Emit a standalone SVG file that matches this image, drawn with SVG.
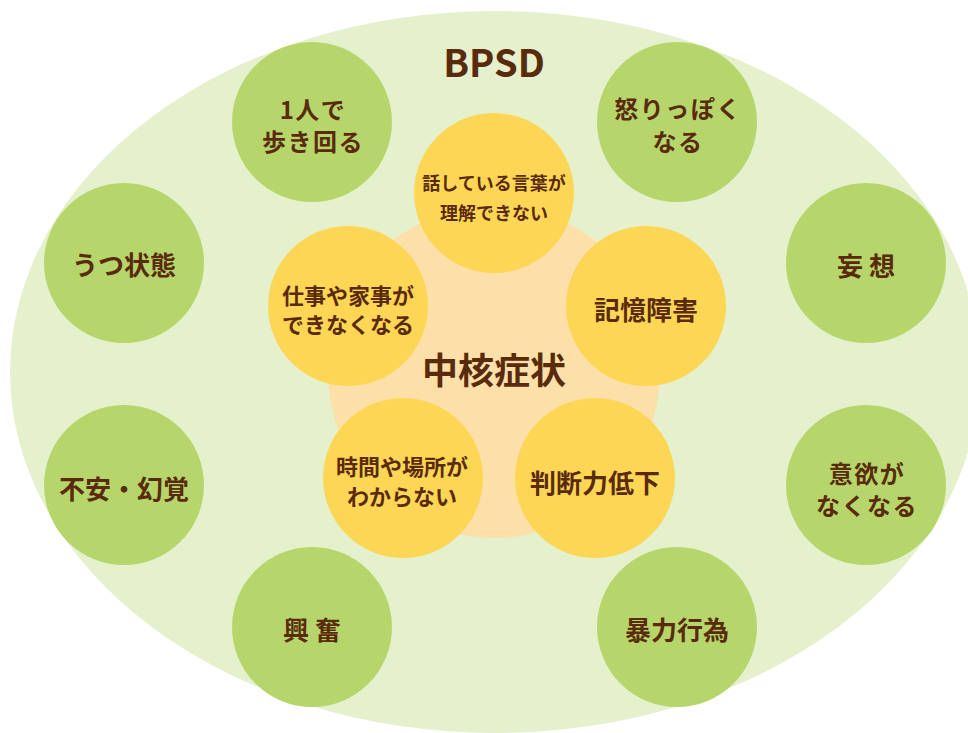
<svg xmlns="http://www.w3.org/2000/svg" width="968" height="733" viewBox="0 0 968 733">
<style>
  .bg { fill: #e5f0cd; }
  .core { fill: #fde0a9; }
  .g { fill: #b6d66b; }
  .y { fill: #fed656; }
  text { font-family: "Noto Sans CJK JP", "Noto Sans", sans-serif; font-weight: 700; fill: #5a2b0b; text-anchor: middle; }
  .t26 { font-size: 26px; }
  .t24 { font-size: 24px; letter-spacing: 1.5px; }
  .t22 { font-size: 22px; }
  .t18 { font-size: 18px; }
</style>
<rect x="0" y="0" width="968" height="733" fill="#ffffff"/>
<g id="bpsd">
  <ellipse class="bg" cx="495" cy="372" rx="485" ry="361"/>
  <text x="494" y="77" style="font-size:38px">BPSD</text>
</g>
<g id="core">
  <circle class="core" cx="494" cy="372" r="166"/>
  <text x="494" y="384" style="font-size:36px">中核症状</text>
</g>
<g id="n-walk">
  <circle class="g" cx="312" cy="122" r="80"/>
  <text class="t24" x="313" y="119"><tspan x="313">1人で</tspan><tspan x="313" dy="32">歩き回る</tspan></text>
</g>
<g id="n-angry">
  <circle class="g" cx="677" cy="122" r="80"/>
  <text class="t24" x="678" y="118"><tspan x="678">怒りっぽく</tspan><tspan x="678" dy="33">なる</tspan></text>
</g>
<g id="n-depression">
  <circle class="g" cx="124" cy="263" r="80"/>
  <text class="t26" x="124" y="275">うつ状態</text>
</g>
<g id="n-delusion">
  <circle class="g" cx="866" cy="263" r="80"/>
  <text class="t26" x="866" y="276">妄 想</text>
</g>
<g id="n-anxiety">
  <circle class="g" cx="124" cy="485" r="80"/>
  <text class="t26" x="124" y="499">不安・幻覚</text>
</g>
<g id="n-apathy">
  <circle class="g" cx="866" cy="485" r="80"/>
  <text class="t24" x="867" y="483"><tspan x="867">意欲が</tspan><tspan x="867" dy="32">なくなる</tspan></text>
</g>
<g id="n-excite">
  <circle class="g" cx="312" cy="627" r="80"/>
  <text class="t26" x="312" y="640">興 奮</text>
</g>
<g id="n-violence">
  <circle class="g" cx="677" cy="627" r="80"/>
  <text class="t26" x="677" y="640">暴力行為</text>
</g>
<g id="c-language">
  <circle class="y" cx="494" cy="193" r="80"/>
  <text class="t18" x="494" y="190"><tspan x="494">話している言葉が</tspan><tspan x="494" dy="30">理解できない</tspan></text>
</g>
<g id="c-housework">
  <circle class="y" cx="348" cy="306" r="80"/>
  <text class="t22" x="348" y="304"><tspan x="348">仕事や家事が</tspan><tspan x="348" dy="29">できなくなる</tspan></text>
</g>
<g id="c-memory">
  <circle class="y" cx="646" cy="306" r="80"/>
  <text class="t26" x="646" y="320">記憶障害</text>
</g>
<g id="c-orientation">
  <circle class="y" cx="403" cy="478" r="80"/>
  <text class="t22" x="402" y="475"><tspan x="402">時間や場所が</tspan><tspan x="402" dy="30">わからない</tspan></text>
</g>
<g id="c-judgment">
  <circle class="y" cx="595" cy="478" r="80"/>
  <text class="t26" x="595" y="493">判断力低下</text>
</g>
<g id="connectors"></g>
</svg>
